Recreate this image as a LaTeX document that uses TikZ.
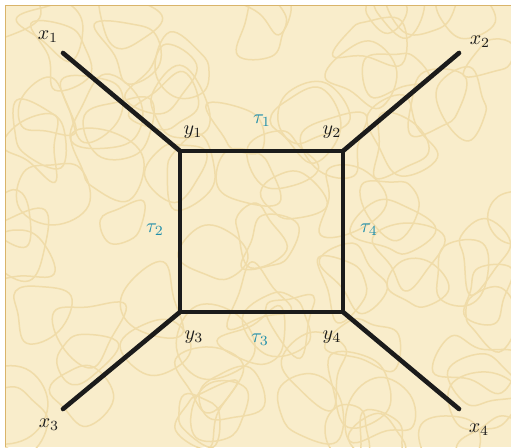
\documentclass[tikz,border=0pt]{standalone}
\usetikzlibrary{calc}
\definecolor{bgfill}{HTML}{F9EDCB}
\definecolor{squig}{HTML}{F0DCA9}
\definecolor{framec}{HTML}{D9B46A}
\definecolor{taucol}{HTML}{1F8EAA}
\definecolor{linec}{HTML}{1B1B1B}
\begin{document}
\begin{tikzpicture}[x=1pt,y=1pt,
  edge/.style={draw=linec,line width=4.6pt,line cap=round,line join=miter},
  vlabel/.style={scale=2.0,text=linec,inner sep=0pt},
  taulabel/.style={scale=2.0,text=taucol,inner sep=0pt}]
\useasboundingbox (0,0) rectangle (511,447);
\fill[white] (0,0) rectangle (511,447);
\fill[bgfill] (5,0) rectangle (511,441);
% texture
\begin{scope}
\clip (5,0) rectangle (511,441);
\pgfmathsetseed{11}
\foreach \i in {1,...,90}{
  \pgfmathsetmacro{\cx}{random(0,520)}
  \pgfmathsetmacro{\cy}{random(0,450)}
  \pgfmathsetmacro{\ra}{random(15,45)}
  \pgfmathsetmacro{\rb}{random(15,45)}
  \pgfmathsetmacro{\rc}{random(15,45)}
  \pgfmathsetmacro{\rd}{random(15,45)}
  \pgfmathsetmacro{\re}{random(15,45)}
  \pgfmathsetmacro{\rf}{random(15,45)}
  \pgfmathsetmacro{\ph}{random(0,360)}
  \draw[squig,line width=1.5pt] plot[smooth cycle,tension=0.7] coordinates {
    ($(\cx,\cy)+(\ph:\ra)$) ($(\cx,\cy)+(\ph+60:\rb)$) ($(\cx,\cy)+(\ph+120:\rc)$)
    ($(\cx,\cy)+(\ph+180:\rd)$) ($(\cx,\cy)+(\ph+240:\re)$) ($(\cx,\cy)+(\ph+300:\rf)$)};
}
\end{scope}
\draw[framec,line width=1pt] (5,0) -- (5,441) -- (511,441);
% nodes
\coordinate (x1) at (63,394);
\coordinate (x2) at (459,394);
\coordinate (x3) at (63,38);
\coordinate (x4) at (459,38);
\coordinate (y1) at (180,296);
\coordinate (y2) at (343,296);
\coordinate (y3) at (180,135);
\coordinate (y4) at (343,135);
\draw[edge] (x1) -- (y1);
\draw[edge] (x2) -- (y2);
\draw[edge] (x3) -- (y3);
\draw[edge] (x4) -- (y4);
\draw[edge,line cap=butt] (y1) -- (y2) -- (y4) -- (y3) -- cycle;
% labels
\node[vlabel] (lx1) at (48,410) {$x_1$};
\node[vlabel] (lx2) at (480,405) {$x_2$};
\node[vlabel] (lx3) at (49,22) {$x_3$};
\node[vlabel] (lx4) at (479,17) {$x_4$};
\node[vlabel] (ly1) at (193,315) {$y_1$};
\node[vlabel] (ly2) at (332,315) {$y_2$};
\node[vlabel] (ly3) at (194,110) {$y_3$};
\node[vlabel] (ly4) at (332,110) {$y_4$};
\node[taulabel] (t1) at (262,326) {$\tau_1$};
\node[taulabel] (t2) at (155,217) {$\tau_2$};
\node[taulabel] (t3) at (260,107) {$\tau_3$};
\node[taulabel] (t4) at (369,217) {$\tau_4$};
\end{tikzpicture}
\end{document}
